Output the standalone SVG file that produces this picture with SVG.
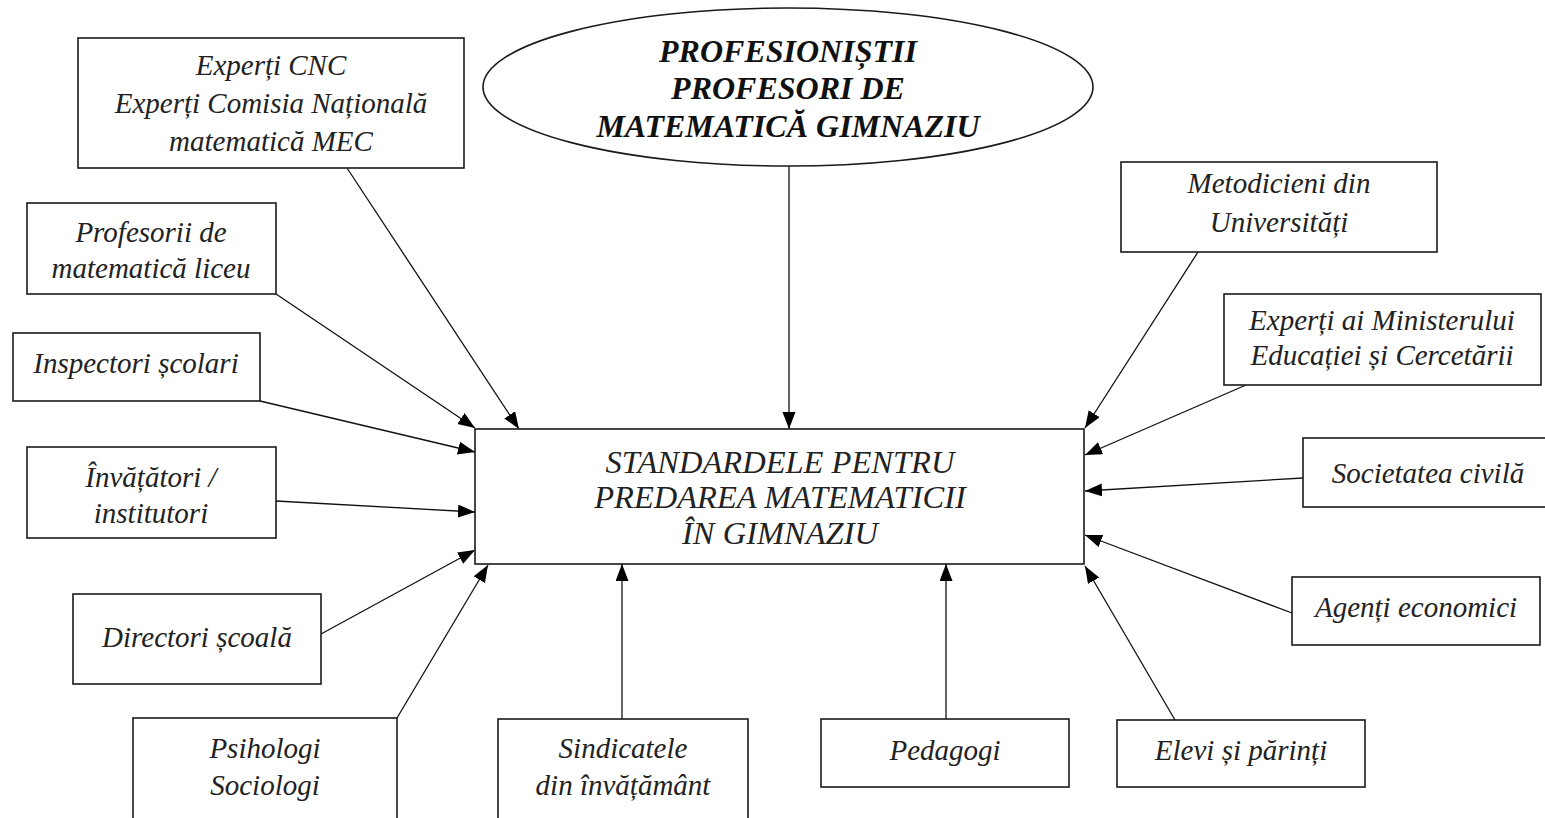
<svg xmlns="http://www.w3.org/2000/svg" width="1545" height="818" viewBox="0 0 1545 818">
<style>
.box{fill:#fff;stroke:#1a1a1a;stroke-width:1.6}
.t{font-family:'Liberation Serif','DejaVu Serif',serif;font-style:italic;font-size:29px;fill:#222;text-anchor:middle}
.c{font-size:32.5px}
.b{font-weight:bold;font-size:32px;fill:#111}
.ln{stroke:#111;stroke-width:1.3;fill:none;marker-end:url(#ah)}
</style>
<defs>
<marker id="ah" markerUnits="userSpaceOnUse" markerWidth="18" markerHeight="14" refX="17" refY="6.5" orient="auto">
<path d="M0,0 L17,6.5 L0,13 Z" fill="#000"/>
</marker>
</defs>
<rect width="1545" height="818" fill="#fff"/>
<g id="connectors">
<line class="ln" x1="347" y1="168" x2="519" y2="429"/>
<line class="ln" x1="789" y1="166" x2="789" y2="429"/>
<line class="ln" x1="276" y1="294" x2="475" y2="428"/>
<line class="ln" x1="260" y1="401" x2="475" y2="452"/>
<line class="ln" x1="276" y1="501" x2="475" y2="512"/>
<line class="ln" x1="321" y1="634" x2="475" y2="550"/>
<line class="ln" x1="397" y1="718" x2="488" y2="565"/>
<line class="ln" x1="622" y1="719" x2="622" y2="564"/>
<line class="ln" x1="946" y1="719" x2="946" y2="564"/>
<line class="ln" x1="1175" y1="720" x2="1085" y2="566"/>
<line class="ln" x1="1292" y1="613" x2="1085" y2="535"/>
<line class="ln" x1="1303" y1="478" x2="1085" y2="491"/>
<line class="ln" x1="1246" y1="385" x2="1085" y2="455"/>
<line class="ln" x1="1198" y1="252" x2="1085" y2="428"/>
</g>
<g id="center">
<rect class="box" x="475" y="429" width="609" height="135"/>
<text class="t c" x="780" y="473">STANDARDELE PENTRU</text>
<text class="t c" x="780" y="508">PREDAREA MATEMATICII</text>
<text class="t c" x="780" y="544">ÎN GIMNAZIU</text>
</g>
<g id="profesionistii">
<ellipse class="box" cx="788" cy="87" rx="305" ry="79"/>
<text class="t b" x="788" y="62">PROFESIONIȘTII</text>
<text class="t b" x="788" y="99">PROFESORI DE</text>
<text class="t b" x="788" y="137">MATEMATICĂ GIMNAZIU</text>
</g>
<g id="experti-cnc">
<rect class="box" x="78" y="38" width="386" height="130"/>
<text class="t" x="271" y="75">Experți CNC</text>
<text class="t" x="271" y="113">Experți Comisia Națională</text>
<text class="t" x="271" y="151">matematică MEC</text>
</g>
<g id="profesorii-liceu">
<rect class="box" x="27" y="203" width="249" height="91"/>
<text class="t" x="151" y="242">Profesorii de</text>
<text class="t" x="151" y="278">matematică liceu</text>
</g>
<g id="inspectori">
<rect class="box" x="13" y="333" width="247" height="68"/>
<text class="t" x="136" y="373">Inspectori școlari</text>
</g>
<g id="invatatori">
<rect class="box" x="27" y="447" width="249" height="91"/>
<text class="t" x="151" y="487">Învățători /</text>
<text class="t" x="151" y="523">institutori</text>
</g>
<g id="directori">
<rect class="box" x="73" y="594" width="248" height="90"/>
<text class="t" x="197" y="647">Directori școală</text>
</g>
<g id="psihologi">
<rect class="box" x="133" y="718" width="264" height="120"/>
<text class="t" x="265" y="758">Psihologi</text>
<text class="t" x="265" y="795">Sociologi</text>
</g>
<g id="sindicatele">
<rect class="box" x="498" y="719" width="250" height="120"/>
<text class="t" x="623" y="758">Sindicatele</text>
<text class="t" x="623" y="795">din învățământ</text>
</g>
<g id="pedagogi">
<rect class="box" x="821" y="719" width="248" height="68"/>
<text class="t" x="945" y="760">Pedagogi</text>
</g>
<g id="elevi">
<rect class="box" x="1117" y="720" width="248" height="67"/>
<text class="t" x="1241" y="760">Elevi și părinți</text>
</g>
<g id="agenti">
<rect class="box" x="1292" y="577" width="248" height="68"/>
<text class="t" x="1416" y="617">Agenți economici</text>
</g>
<g id="societatea">
<rect class="box" x="1303" y="438" width="260" height="69"/>
<text class="t" x="1428" y="483">Societatea civilă</text>
</g>
<g id="experti-minister">
<rect class="box" x="1224" y="294" width="317" height="91"/>
<text class="t" x="1382" y="330">Experți ai Ministerului</text>
<text class="t" x="1382" y="365">Educației și Cercetării</text>
</g>
<g id="metodicieni">
<rect class="box" x="1121" y="162" width="316" height="90"/>
<text class="t" x="1279" y="193">Metodicieni din</text>
<text class="t" x="1279" y="232">Universități</text>
</g>
</svg>
